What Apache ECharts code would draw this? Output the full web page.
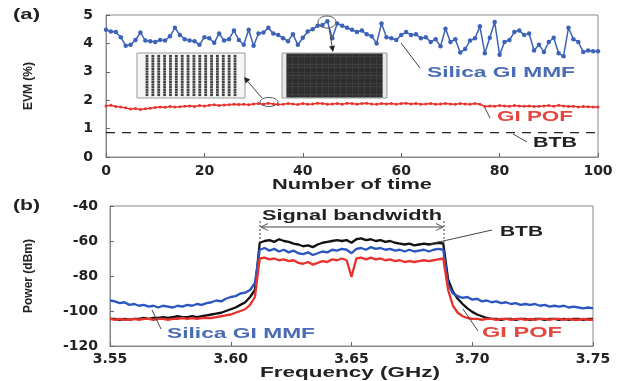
<!DOCTYPE html>
<html>
<head>
<meta charset="utf-8">
<script src="https://cdn.jsdelivr.net/npm/echarts@6/dist/echarts.min.js"></script>
<style>
  html, body { margin: 0; padding: 0; background: #fff; }
  #chart { width: 617px; height: 381px; }
</style>
</head>
<body>
<div id="chart"></div>
<script>
// (a) EVM vs number of measurement, one value per run 0..100
const evmMmf = [
  4.48, 4.42, 4.40, 4.22, 3.92, 3.95, 4.12, 4.38, 4.10, 4.08,
  4.05, 4.12, 4.10, 4.25, 4.55, 4.30, 4.15, 4.10, 4.08, 3.95,
  4.22, 4.18, 4.02, 4.35, 4.10, 4.15, 4.45, 4.12, 3.95, 4.48,
  3.92, 4.35, 4.38, 4.55, 4.35, 4.30, 4.18, 4.08, 4.32, 3.95,
  4.20, 4.42, 4.50, 4.62, 4.65, 4.78, 4.18, 4.70, 4.62, 4.55,
  4.48, 4.40, 4.45, 4.32, 4.25, 4.00, 4.70, 4.22, 4.18, 4.12,
  4.30, 4.40, 4.30, 4.32, 4.18, 4.22, 4.05, 4.15, 3.90, 4.52,
  4.05, 4.15, 3.68, 3.80, 4.10, 4.18, 4.60, 3.65, 4.20, 4.75,
  3.60, 4.05, 4.12, 4.40, 4.45, 4.30, 4.35, 3.75, 3.95, 3.70,
  4.05, 4.20, 3.65, 3.55, 4.55, 4.15, 4.05, 3.70, 3.75, 3.72,
  3.72
];
const evmPof = [
  1.80, 1.82, 1.78, 1.76, 1.73, 1.69, 1.71, 1.67, 1.70, 1.72,
  1.74, 1.76, 1.75, 1.78, 1.76, 1.77, 1.79, 1.80, 1.78, 1.81,
  1.80, 1.82, 1.84, 1.81, 1.83, 1.84, 1.86, 1.85, 1.86, 1.84,
  1.87, 1.88, 1.86, 1.89, 1.87, 1.85, 1.86, 1.88, 1.87, 1.85,
  1.88, 1.86, 1.87, 1.89, 1.88, 1.86, 1.87, 1.88, 1.86, 1.89,
  1.88, 1.86, 1.88, 1.89, 1.87, 1.86, 1.88, 1.87, 1.88, 1.86,
  1.88, 1.89, 1.87, 1.88, 1.86, 1.87, 1.88, 1.86, 1.87, 1.88,
  1.87, 1.86, 1.88, 1.87, 1.86, 1.88, 1.86, 1.78, 1.80, 1.79,
  1.81, 1.80, 1.79, 1.81, 1.80, 1.79, 1.80, 1.78, 1.79, 1.80,
  1.81, 1.79, 1.82, 1.80, 1.78, 1.79, 1.76, 1.78, 1.77, 1.76,
  1.76
];
const evmBtb = 0.86;
const runRange = [0, 100];

// (b) spectra
const freqGHz = [
  3.550, 3.552, 3.554, 3.556, 3.558, 3.560, 3.562, 3.564, 3.566, 3.568,
  3.570, 3.572, 3.574, 3.576, 3.578, 3.580, 3.582, 3.584, 3.586, 3.588,
  3.590, 3.592, 3.594, 3.596, 3.598, 3.600, 3.602, 3.604, 3.606, 3.608,
  3.610, 3.612, 3.614, 3.616, 3.618, 3.620, 3.622, 3.624, 3.626, 3.628,
  3.630, 3.632, 3.634, 3.636, 3.638, 3.640, 3.642, 3.644, 3.646, 3.648,
  3.650, 3.652, 3.654, 3.656, 3.658, 3.660, 3.662, 3.664, 3.666, 3.668,
  3.670, 3.672, 3.674, 3.676, 3.678, 3.680, 3.682, 3.684, 3.686, 3.688,
  3.690, 3.692, 3.694, 3.696, 3.698, 3.700, 3.702, 3.704, 3.706, 3.708,
  3.710, 3.712, 3.714, 3.716, 3.718, 3.720, 3.722, 3.724, 3.726, 3.728,
  3.730, 3.732, 3.734, 3.736, 3.738, 3.740, 3.742, 3.744, 3.746, 3.748,
  3.750
];
const powBtb = [
  -104.5, -104.5, -105, -104.5, -105, -104.5, -104.5, -104, -104.5, -104,
  -104, -103.5, -104, -103.5, -103, -103.5, -103.5, -103, -103.5, -103,
  -102.5, -102, -101.5, -101, -100, -99, -98, -96.5, -95, -92,
  -88, -61, -60, -59.5, -60.5, -59, -60, -60.5, -61.5, -62,
  -63, -62.5, -63.5, -62, -61, -60.5, -60, -59.5, -60, -59.5,
  -61, -59, -58.5, -59.5, -59, -60, -59.5, -60.5, -60, -61,
  -61.5, -62, -61.5, -62.5, -62, -61.5, -62, -61.5, -61, -61.5,
  -82, -89, -93, -96, -98.5, -100.5, -102, -103, -104, -104.5,
  -104.5, -105, -104.5, -104.5, -105, -104.5, -104.5, -105, -104.5, -104.5,
  -105, -104.5, -104.5, -105, -104.5, -105, -104.5, -104.5, -105, -104.5,
  -104.5
];
const powMmf = [
  -94, -94.5, -95.5, -95, -96.5, -96, -97, -96.5, -97.5, -97,
  -98, -97, -97.5, -98, -97, -97.5, -96.5, -97, -96, -96.5,
  -95.5, -95, -94, -94.5, -93, -92, -91.5, -90, -89.5, -88,
  -84, -65, -64, -65.5, -64.5, -66, -65, -66.5, -65.5, -67,
  -67.5, -66.5, -68, -67, -66, -66.5, -65, -65.5, -64.5, -65,
  -67, -64.5, -64, -65, -63.5, -64.5, -64, -65, -64.5, -65.5,
  -65, -66, -65, -66, -65.5, -65, -66, -65, -64.5, -65,
  -85, -90, -91.5, -92.5, -92, -93.5, -93, -94.5, -94, -95,
  -94.5, -95.5, -95, -96, -95.5, -96.5, -96, -96.5, -96, -97,
  -96.5, -97.5, -97, -97.5, -97, -98, -97.5, -98, -98.5, -98,
  -98.5
];
const powPof = [
  -104.5, -105, -104.5, -105, -105, -104.5, -105, -104.5, -104.5, -105,
  -104.5, -104.5, -105, -104.5, -104.5, -104, -104.5, -104, -104.5, -104,
  -104, -104, -103.5, -103, -102.5, -102, -101, -100, -99, -96.5,
  -92, -70, -69.5, -70.5, -70, -71, -70.5, -71.5, -71, -72.5,
  -73, -72, -73.5, -72.5, -71.5, -72, -70.5, -71, -70, -71,
  -80.5, -70, -69.5, -70.5, -69.5, -70.5, -70, -71, -70.5, -71.5,
  -71, -72, -71.5, -72, -71.5, -71, -71.5, -71, -70.5, -70,
  -88, -97, -101, -103, -104, -104.5, -104.5, -105, -104.5, -104.5,
  -105, -104.5, -104.5, -105, -104.5, -104.5, -105, -104.5, -105, -104.5,
  -104.5, -105, -104.5, -104.5, -105, -104.5, -105, -105, -104.5, -105,
  -105
];

// constellation insets (256-QAM levels)
const qamLevels = [-15, -13, -11, -9, -7, -5, -3, -1, 1, 3, 5, 7, 9, 11, 13, 15];

const BLUE = '#3d63b8';
const RED = '#e8322e';
const TICK_FONT = { fontFamily: 'DejaVu Sans', fontWeight: 'bold', fontSize: 14, color: '#222' };

const qamPoints = qamLevels.flatMap(a => qamLevels.map(b => [a, b]));

// text in the original figure is stretched horizontally, so scale it to the measured width
const ctx = document.createElement('canvas').getContext('2d');
function label(text, x, y, width, color, align, size) {
  const font = 'bold ' + (size || 15) + 'px "Liberation Sans"';
  ctx.font = font;
  const s = width / ctx.measureText(text).width;
  return {
    type: 'text', x: x, y: y, scaleX: s, z: 100,
    style: { text: text, font: font, fill: color || '#111',
      textAlign: align || 'left', textVerticalAlign: 'middle',
      align: align || 'left', verticalAlign: 'middle' }
  };
}
function seg(x1, y1, x2, y2, dash) {
  return { type: 'line', z: 100, shape: { x1, y1, x2, y2 },
    style: { stroke: '#444', lineWidth: 1, lineDash: dash || null } };
}
function arrow(x1, y1, x2, y2) {
  const a = Math.atan2(y2 - y1, x2 - x1), L = 6, W = 3;
  const bx = x2 - L * Math.cos(a), by = y2 - L * Math.sin(a);
  const px = -Math.sin(a) * W, py = Math.cos(a) * W;
  return [seg(x1, y1, bx, by),
    { type: 'polygon', z: 100, shape: { points: [[x2, y2], [bx + px, by + py], [bx - px, by - py]] },
      style: { fill: '#222' } }];
}
function openHead(x, y, dir) {
  return { type: 'polyline', z: 100, shape: { points: [[x - dir * 7, y - 3.5], [x, y], [x - dir * 7, y + 3.5]] },
    style: { stroke: '#555', lineWidth: 1, fill: null } };
}

const chart = echarts.init(document.getElementById('chart'));

const axisBase = {
  axisLine: { show: true, lineStyle: { color: '#888' } },
  axisTick: { show: true, inside: true, length: 4, lineStyle: { color: '#666' } },
  splitLine: { show: false }
};

chart.setOption({
  animation: false,
  backgroundColor: '#fff',
  grid: [
    { left: 106, top: 15, width: 492, height: 142, show: true, borderColor: '#888' },
    { left: 110, top: 206, width: 483, height: 140, show: true, borderColor: '#888' },
    { left: 137, top: 53, width: 108, height: 45, show: true, borderColor: '#999', backgroundColor: '#f6f6f6' },
    { left: 282, top: 53, width: 105, height: 45, show: true, borderColor: '#999', backgroundColor: '#e8e8e8' }
  ],
  xAxis: [
    Object.assign({ gridIndex: 0, type: 'value', min: 0, max: 100, interval: 20,
      axisLabel: Object.assign({ margin: 7 }, TICK_FONT) }, axisBase),
    Object.assign({ gridIndex: 1, type: 'value', min: 3.55, max: 3.75, interval: 0.05,
      axisLabel: Object.assign({ margin: 6, formatter: v => v.toFixed(2) }, TICK_FONT) }, axisBase),
    { gridIndex: 2, type: 'value', min: -18.4, max: 18.4, show: false },
    { gridIndex: 3, type: 'value', min: -17.5, max: 17.5, show: false }
  ],
  yAxis: [
    Object.assign({ gridIndex: 0, type: 'value', min: 0, max: 5, interval: 1,
      name: 'EVM (%)', nameLocation: 'middle', nameGap: 71,
      nameTextStyle: { fontFamily: 'Liberation Sans', fontWeight: 'bold', fontSize: 12, color: '#222' },
      axisLabel: Object.assign({ margin: 13 }, TICK_FONT) }, axisBase),
    Object.assign({ gridIndex: 1, type: 'value', min: -120, max: -40, interval: 20,
      name: 'Power (dBm)', nameLocation: 'middle', nameGap: 75,
      nameTextStyle: { fontFamily: 'Liberation Sans', fontWeight: 'bold', fontSize: 12, color: '#222' },
      axisLabel: Object.assign({ margin: 12 }, TICK_FONT) }, axisBase),
    { gridIndex: 2, type: 'value', min: -17.3, max: 17.3, show: false },
    { gridIndex: 3, type: 'value', min: -16.5, max: 16.5, show: false }
  ],
  series: [
    {
      name: 'Silica GI MMF', type: 'line', xAxisIndex: 0, yAxisIndex: 0,
      data: evmMmf.map((v, i) => [i, v]),
      symbol: 'circle', symbolSize: 4.5, color: BLUE,
      lineStyle: { width: 1.5, color: BLUE }
    },
    {
      name: 'GI POF', type: 'line', xAxisIndex: 0, yAxisIndex: 0,
      data: evmPof.map((v, i) => [i, v]),
      symbol: 'circle', symbolSize: 3, color: RED,
      lineStyle: { width: 1.5, color: RED }
    },
    {
      name: 'BTB', type: 'line', xAxisIndex: 0, yAxisIndex: 0,
      data: runRange.map(r => [r, evmBtb]),
      symbol: 'none', lineStyle: { width: 1.3, color: '#222', type: [9, 7] }
    },
    {
      name: 'BTB spectrum', type: 'line', xAxisIndex: 1, yAxisIndex: 1,
      data: freqGHz.map((f, i) => [f, powBtb[i]]),
      symbol: 'none', lineStyle: { width: 2.3, color: '#111' }
    },
    {
      name: 'MMF spectrum', type: 'line', xAxisIndex: 1, yAxisIndex: 1,
      data: freqGHz.map((f, i) => [f, powMmf[i]]),
      symbol: 'none', lineStyle: { width: 2.3, color: '#2b55c0' }
    },
    {
      name: 'POF spectrum', type: 'line', xAxisIndex: 1, yAxisIndex: 1,
      data: freqGHz.map((f, i) => [f, powPof[i]]),
      symbol: 'none', lineStyle: { width: 2.3, color: RED }
    },
    {
      name: 'POF constellation', type: 'scatter', xAxisIndex: 2, yAxisIndex: 2,
      data: qamPoints, symbol: 'rect', symbolSize: [2.8, 2.2], itemStyle: { color: '#111' }
    },
    {
      name: 'MMF constellation', type: 'scatter', xAxisIndex: 3, yAxisIndex: 3,
      data: qamPoints, symbol: 'rect', symbolSize: [6.2, 2.9], itemStyle: { color: '#000' }
    }
  ],
  graphic: [
    label('(a)', 13, 15, 27, '#222', 'left', 14),
    label('(b)', 13, 206, 27, '#222', 'left', 14),
    label('Number of time', 352, 185, 160, '#222', 'center'),
    label('Frequency (GHz)', 350, 373, 180, '#222', 'center'),
    // panel (a) annotations
    label('Silica GI MMF', 427, 73, 148, '#4a6cb5'),
    label('GI POF', 497, 117, 76, '#e2483f'),
    label('BTB', 533, 143, 44, '#222'),
    seg(401, 43, 420, 68),
    seg(485, 108, 490, 118),
    seg(513, 134, 527, 142),
    { type: 'ellipse', z: 100, shape: { cx: 327, cy: 22, rx: 9, ry: 6 },
      style: { stroke: '#556', lineWidth: 1, fill: null } },
    { type: 'ellipse', z: 100, shape: { cx: 269, cy: 102, rx: 9, ry: 4.5 },
      style: { stroke: '#556', lineWidth: 1, fill: null } },
    ...arrow(329, 28, 333, 52),
    ...arrow(262, 98, 244, 77),
    // panel (b) annotations
    label('Signal bandwidth', 352, 216, 180, '#222', 'center'),
    seg(260, 221, 260, 243, [2, 2]),
    seg(444, 221, 444, 243, [2, 2]),
    seg(261, 227, 443, 227),
    openHead(261, 227, -1),
    openHead(443, 227, 1),
    label('BTB', 500, 232, 43, '#222'),
    seg(430, 244, 492, 230),
    label('GI POF', 482, 333, 80, '#e2483f'),
    seg(463, 309, 478, 331),
    label('Silica GI MMF', 167, 334, 148, '#4a6cb5'),
    seg(152, 310, 161, 329)
  ]
});
</script>
</body>
</html>
